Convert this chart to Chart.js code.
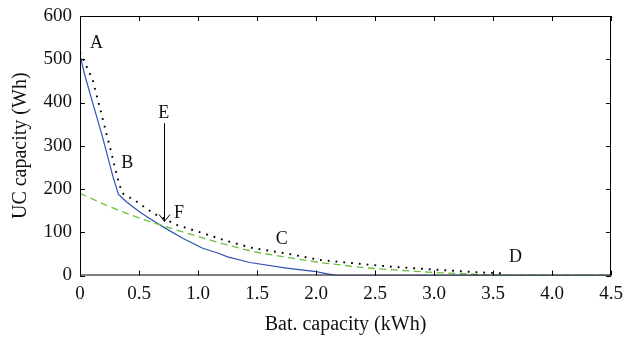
<!DOCTYPE html>
<html>
<head>
<meta charset="utf-8">
<script src="https://cdn.jsdelivr.net/npm/chart.js@4/dist/chart.umd.min.js"></script>
<style>
  html, body { margin: 0; padding: 0; background: #fff; }
  #wrap { width: 623px; height: 341px; }
</style>
</head>
<body>
<div id="wrap"><canvas id="line_chart" width="623" height="341"></canvas></div>
<script>
// battery vs UC capacity curves
const blueX = [0, 0.037, 0.093, 0.19, 0.28, 0.325, 0.39, 0.506, 0.59, 0.70, 0.87, 1.04, 1.18, 1.25, 1.44, 1.75, 2.0, 2.17, 4.5];
const blueY = [510, 467, 413, 321, 228, 188, 171, 147, 132, 113, 86, 63, 51, 43, 30, 17, 9, 0, 0];

const dotX = [0, 0.108, 0.18, 0.26, 0.33, 0.36, 0.48, 0.62, 0.82, 1.04, 1.24, 1.47, 1.75, 2.03, 2.41, 2.65, 2.99, 3.33, 3.58];
const dotY = [517, 452, 375, 290, 213, 190, 171, 144, 117, 98, 80, 63, 51, 36, 26, 20, 14, 8, 5];

const greenX = [0, 0.25, 0.53, 0.82, 1.2, 1.47, 1.75, 2.03, 2.41, 2.65, 2.99, 3.33, 3.5, 4.5];
const greenY = [190, 159, 130, 105, 74, 55, 42, 30, 18, 13, 7, 3, 0, 0];

const xTicks = [0, 0.5, 1, 1.5, 2, 2.5, 3, 3.5, 4, 4.5];
const yTicks = [0, 100, 200, 300, 400, 500, 600];

// letter markers and the E -> F arrow (data coordinates)
const pointLabels = [
  {t: 'A', x: 0.14, y: 537},
  {t: 'B', x: 0.40, y: 259},
  {t: 'C', x: 1.71, y: 84},
  {t: 'D', x: 3.69, y: 43},
  {t: 'E', x: 0.71, y: 376},
  {t: 'F', x: 0.84, y: 144}
];
const arrowE = {x: 0.71, from: 352, to: 125};

function pts(xs, ys) {
  return xs.map((x, i) => ({x: x, y: ys[i]}));
}

const FONT = '"Liberation Serif", "DejaVu Serif", serif';

const framePlugin = {
  id: 'frame',
  afterDraw(chart) {
    const ctx = chart.ctx;
    const a = chart.chartArea;
    const xs = chart.scales.x, ys = chart.scales.y;
    ctx.save();
    ctx.strokeStyle = '#000';
    ctx.lineWidth = 1;
    ctx.strokeRect(a.left + 0.5, a.top + 0.5, a.right - a.left - 1, a.bottom - a.top - 1);
    // inward ticks on all four sides
    ctx.beginPath();
    xTicks.forEach(v => {
      const p = Math.round(xs.getPixelForValue(v)) + 0.5;
      ctx.moveTo(p, a.bottom); ctx.lineTo(p, a.bottom - 5);
      ctx.moveTo(p, a.top); ctx.lineTo(p, a.top + 5);
    });
    yTicks.forEach(v => {
      const p = Math.round(ys.getPixelForValue(v)) + 0.5;
      ctx.moveTo(a.left, p); ctx.lineTo(a.left + 5, p);
      ctx.moveTo(a.right, p); ctx.lineTo(a.right - 5, p);
    });
    ctx.stroke();

    // arrow E
    const ax = Math.round(xs.getPixelForValue(arrowE.x)) + 0.5;
    const ay0 = ys.getPixelForValue(arrowE.from);
    const ay1 = ys.getPixelForValue(arrowE.to);
    ctx.beginPath();
    ctx.moveTo(ax, ay0); ctx.lineTo(ax, ay1);
    ctx.moveTo(ax - 5.5, ay1 - 7); ctx.lineTo(ax, ay1); ctx.lineTo(ax + 5.5, ay1 - 7);
    ctx.stroke();

    ctx.fillStyle = '#111';
    ctx.font = '18px ' + FONT;
    ctx.textAlign = 'center';
    ctx.textBaseline = 'middle';
    pointLabels.forEach(l => {
      ctx.fillText(l.t, xs.getPixelForValue(l.x), ys.getPixelForValue(l.y));
    });
    ctx.restore();
  }
};

const config = {
  type: 'scatter',
  data: {
    datasets: [
      {
        label: 'dotted',
        data: pts(dotX, dotY),
        showLine: true,
        borderColor: '#000',
        borderWidth: 1.9,
        borderDash: [1.8, 6],
        pointRadius: 0,
        tension: 0
      },
      {
        label: 'dashed',
        data: pts(greenX, greenY),
        showLine: true,
        borderColor: '#6cc040',
        borderWidth: 1.3,
        borderDash: [7, 4.5],
        pointRadius: 0,
        tension: 0
      },
      {
        label: 'solid',
        data: pts(blueX, blueY),
        showLine: true,
        borderColor: '#3050b5',
        borderWidth: 1.2,
        pointRadius: 0,
        tension: 0
      }
    ]
  },
  options: {
    responsive: false,
    animation: false,
    layout: {padding: {top: 16, right: 12, left: 0, bottom: 0}},
    plugins: {
      legend: {display: false},
      tooltip: {enabled: false}
    },
    scales: {
      x: {
        type: 'linear',
        min: 0, max: 4.5,
        afterBuildTicks: s => { s.ticks = xTicks.map(v => ({value: v})); },
        afterFit: s => { s.height = 65.5; s.paddingLeft = 0; s.paddingRight = 0; },
        grid: {display: false, drawTicks: false},
        border: {display: false},
        ticks: {color: '#111', padding: 7, font: {family: FONT, size: 19}, maxRotation: 0},
        title: {display: true, text: 'Bat. capacity (kWh)', color: '#111',
          font: {family: FONT, size: 20}, padding: {top: 0, bottom: 4}}
      },
      y: {
        type: 'linear',
        min: 0, max: 600,
        afterBuildTicks: s => { s.ticks = yTicks.map(v => ({value: v})); },
        afterFit: s => { s.width = 80; s.paddingTop = 0; s.paddingBottom = 0; },
        grid: {display: false, drawTicks: false},
        border: {display: false},
        ticks: {color: '#111', padding: 8, font: {family: FONT, size: 19}},
        title: {display: true, text: 'UC capacity (Wh)', color: '#111',
          font: {family: FONT, size: 20}, padding: {top: 9, bottom: 0}}
      }
    }
  },
  plugins: [framePlugin]
};

new Chart(document.getElementById('line_chart').getContext('2d'), config);
</script>
</body>
</html>
